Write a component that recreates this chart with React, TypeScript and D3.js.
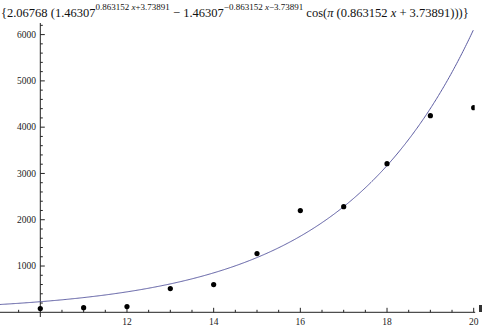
import React from "react";
import * as d3 from "d3";

// Data points
const xValues = [10, 11, 12, 13, 14, 15, 16, 17, 18, 19, 20];
const yValues = [80, 101, 123, 512, 598, 1268, 2197, 2283, 3212, 4248, 4421];

// Fitted model shown in the title: a (b^(c x + d) - b^(-(c x + d)) cos(pi (c x + d)))
const coefA = 2.06768;
const coefB = 1.46307;
const coefC = 0.863152;
const coefD = 3.73891;

const xTickLabels = [12, 14, 16, 18, 20];
const yTickLabels = [1000, 2000, 3000, 4000, 5000, 6000];

const W = 483;
const H = 328;

export default function App() {
  const x = d3.scaleLinear().domain([10, 20]).range([40.3, 473.7]);
  const y = d3.scaleLinear().domain([0, 6000]).range([312.3, 34.6]);
  const xMin = x.invert(0);
  const xMax = 20;
  const yTop = 23;

  const model = (t: number) => {
    const u = coefC * t + coefD;
    return coefA * (Math.pow(coefB, u) - Math.pow(coefB, -u) * Math.cos(Math.PI * u));
  };
  const samples = d3.range(xMin, xMax + 0.0001, 0.02).map((t) => [t, model(t)] as [number, number]);
  const line = d3
    .line<[number, number]>()
    .x((d) => x(d[0]))
    .y((d) => y(d[1]));

  const xMinor = d3.range(9.5, 20.01, 0.5).filter((v) => !xTickLabels.includes(v) && v !== 10);
  const yMinor = d3.range(200, 6201, 200).filter((v) => v % 1000 !== 0);
  const y0 = y(0);
  const ax = x(10);

  const font = "'Liberation Serif', 'Times New Roman', serif";
  const axisColor = "#222";

  return (
    <svg
      width={W}
      height={H}
      style={{ position: "fixed", left: 0, top: 0, background: "#fff" }}
      fontFamily={font}
    >
      <defs>
        <clipPath id="plotClip">
          <rect x={0} y={0} width={x(20) + 1} height={H} />
        </clipPath>
      </defs>
      <rect x={0} y={0} width={W} height={H} fill="#fff" />
      {/* Title */}
      <text x={1} y={17} fontSize={12.5} fill="#111">
        <tspan>{"{2.06768 (1.46307"}</tspan>
        <tspan fontSize={9} dy={-7}>
          {"0.863152 "}
          <tspan fontStyle="italic">x</tspan>
          {"+3.73891"}
        </tspan>
        <tspan dy={7}>{" \u2212 1.46307"}</tspan>
        <tspan fontSize={9} dy={-7}>
          {"\u22120.863152 "}
          <tspan fontStyle="italic">x</tspan>
          {"\u22123.73891"}
        </tspan>
        <tspan dy={7}>{" cos("}</tspan>
        <tspan fontStyle="italic">{"\u03c0"}</tspan>
        <tspan>{" (0.863152 "}</tspan>
        <tspan fontStyle="italic">x</tspan>
        <tspan>{" + 3.73891)))}"}</tspan>
      </text>

      {/* Axes */}
      <line x1={0} x2={x(20) + 1.5} y1={y0} y2={y0} stroke={axisColor} strokeWidth={1} />
      <line x1={ax} x2={ax} y1={yTop} y2={317} stroke={axisColor} strokeWidth={1} />
      {/* x ticks */}
      {xMinor.map((v) => (
        <line key={"xm" + v} x1={x(v)} x2={x(v)} y1={y0} y2={y0 - 2.5} stroke={axisColor} />
      ))}
      {xTickLabels.map((v) => (
        <g key={"xt" + v}>
          <line x1={x(v)} x2={x(v)} y1={y0} y2={y0 - 4.5} stroke={axisColor} />
          <text x={x(v)} y={324.5} fontSize={9.5} textAnchor="middle" fill="#222">
            {v}
          </text>
        </g>
      ))}
      {/* y ticks */}
      {yMinor.map((v) => (
        <line key={"ym" + v} x1={ax} x2={ax + 2.5} y1={y(v)} y2={y(v)} stroke={axisColor} />
      ))}
      {yTickLabels.map((v) => (
        <g key={"yt" + v}>
          <line x1={ax} x2={ax + 4.5} y1={y(v)} y2={y(v)} stroke={axisColor} />
          <text x={36} y={y(v) + 3.2} fontSize={9.5} textAnchor="end" fill="#222">
            {v}
          </text>
        </g>
      ))}
      <rect x={479} y={305} width={3} height={7} fill="#333" />

      <g clipPath="url(#plotClip)">
        <path d={line(samples) || ""} fill="none" stroke="#5a5aa0" strokeWidth={1} />
        {xValues.map((v, i) => (
          <circle key={"p" + v} cx={x(v)} cy={y(yValues[i])} r={2.6} fill="#000" />
        ))}
      </g>
    </svg>
  );
}
